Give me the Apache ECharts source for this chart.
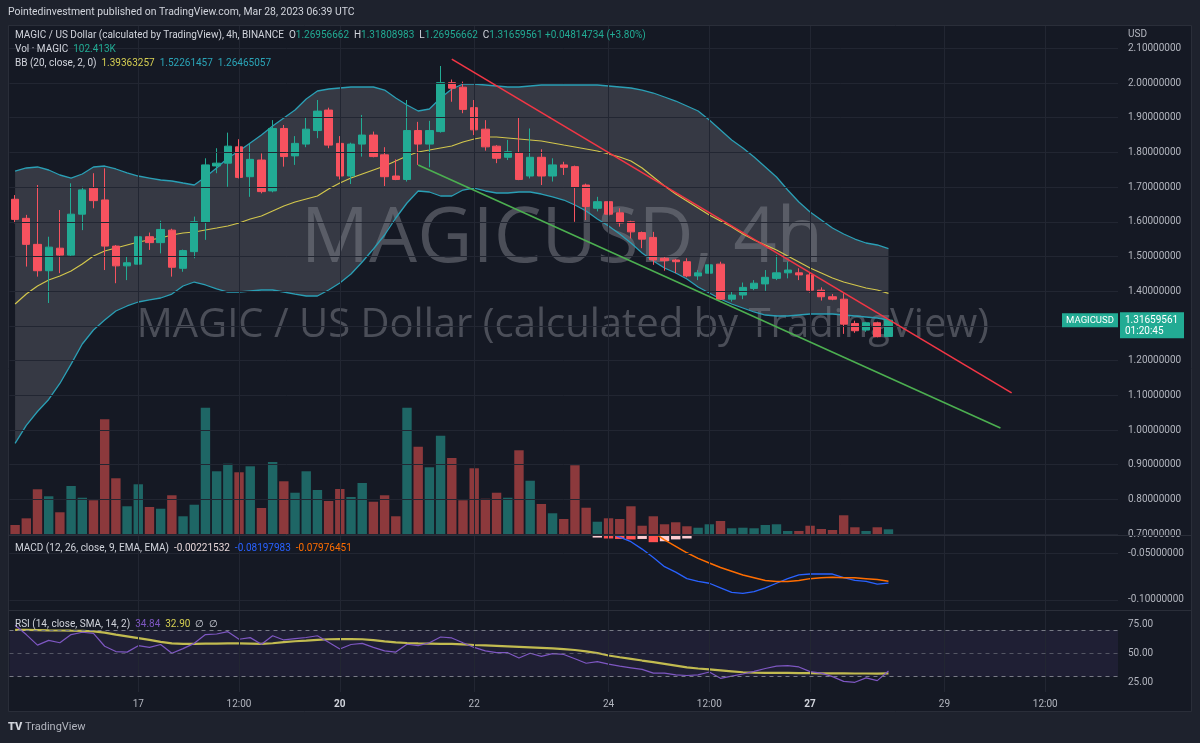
<!DOCTYPE html>
<html>
<head>
<meta charset="utf-8">
<title>MAGICUSD 4h</title>
<script src="https://cdn.jsdelivr.net/npm/echarts@6/dist/echarts.min.js"></script>
<style>
html, body { margin: 0; padding: 0; background: #1e222d; }
#container { width: 1200px; height: 743px; }
</style>
</head>
<body>
<div id="container"></div>
<script>
// MAGIC / USD, 4h candles from Mar 15 04:00 to Mar 28 04:00 (UTC)
var openP = [1.665,1.610,1.535,1.459,1.524,1.504,1.622,1.697,1.663,1.530,
  1.473,1.478,1.557,1.540,1.576,1.466,1.514,1.599,1.761,1.769,
  1.816,1.730,1.778,1.689,1.869,1.790,1.824,1.863,1.922,1.826,
  1.732,1.824,1.850,1.793,1.732,1.722,1.863,1.824,1.860,2.001,
  1.988,1.929,1.867,1.818,1.786,1.799,1.732,1.786,1.732,1.764,
  1.759,1.706,1.639,1.658,1.626,1.600,1.569,1.555,1.495,1.490,
  1.485,1.444,1.452,1.478,1.377,1.389,1.408,1.421,1.437,1.453,
  1.453,1.447,1.403,1.384,1.377,1.307,1.288,1.309,1.26956662];
var highP = [1.677,1.620,1.706,1.557,1.634,1.711,1.701,1.740,1.754,1.533,
  1.499,1.596,1.569,1.603,1.580,1.520,1.615,1.783,1.812,1.857,
  1.838,1.826,1.797,1.893,1.879,1.847,1.901,1.951,1.929,1.847,
  1.828,1.908,1.860,1.815,1.780,1.951,1.888,1.891,2.049,2.010,
  2.004,1.951,1.893,1.821,1.836,1.901,1.869,1.809,1.783,1.773,
  1.762,1.710,1.672,1.668,1.639,1.603,1.572,1.571,1.499,1.493,
  1.495,1.461,1.485,1.485,1.399,1.425,1.432,1.461,1.504,1.485,
  1.466,1.453,1.411,1.392,1.394,1.315,1.312,1.312,1.31808983];
var lowP = [1.596,1.471,1.442,1.366,1.452,1.500,1.576,1.639,1.461,1.423,
  1.432,1.452,1.519,1.509,1.442,1.456,1.495,1.548,1.740,1.701,
  1.725,1.672,1.682,1.685,1.759,1.764,1.815,1.841,1.812,1.722,
  1.709,1.788,1.786,1.703,1.720,1.716,1.764,1.757,1.857,1.946,
  1.913,1.850,1.805,1.769,1.778,1.720,1.725,1.706,1.716,1.735,
  1.600,1.605,1.630,1.600,1.586,1.552,1.524,1.476,1.459,1.452,
  1.440,1.432,1.432,1.375,1.370,1.377,1.403,1.401,1.432,1.437,
  1.432,1.396,1.373,1.374,1.277,1.280,1.283,1.267,1.26956662];
var closeP = [1.607,1.535,1.459,1.527,1.504,1.622,1.692,1.661,1.530,1.473,
  1.482,1.557,1.540,1.578,1.469,1.517,1.600,1.764,1.769,1.818,
  1.728,1.780,1.687,1.869,1.788,1.826,1.867,1.919,1.821,1.732,
  1.824,1.850,1.788,1.730,1.722,1.863,1.824,1.863,2.001,1.985,
  1.924,1.865,1.816,1.783,1.802,1.722,1.786,1.732,1.764,1.757,
  1.699,1.644,1.658,1.622,1.597,1.571,1.550,1.490,1.488,1.485,
  1.444,1.453,1.476,1.377,1.389,1.411,1.423,1.440,1.453,1.461,
  1.447,1.403,1.384,1.377,1.305,1.286,1.309,1.269,1.31659561];
// volume in thousands of MAGIC
var volumeK = [180,300,823,697,409,882,671,625,2083,1021,
  517,913,504,473,715,337,545,2291,1147,1283,
  1129,1237,486,1314,967,761,1147,810,612,828,
  684,936,599,715,337,2291,1589,1219,1787,1386,
  625,1201,653,761,671,1525,977,558,391,288,
  1255,491,239,301,288,517,167,337,193,229,
  157,131,193,252,121,131,121,180,193,72,
  72,167,108,90,355,139,72,139,102.413];
// Bollinger bands (20, close, 2)
var bbUpper = [1.7464,1.7551,1.7580,1.7493,1.7349,1.7262,1.7378,1.7580,1.7608,1.7522,
  1.7407,1.7320,1.7262,1.7205,1.7176,1.7118,1.7061,1.7291,1.7551,1.7839,
  1.8040,1.8271,1.8501,1.8761,1.8991,1.9222,1.9539,1.9770,1.9827,1.9856,
  1.9885,1.9885,1.9885,1.9798,1.9568,1.9366,1.9193,1.9251,1.9568,1.9827,
  1.9971,1.9971,1.9943,1.9914,1.9885,1.9885,1.9914,1.9943,1.9943,1.9943,
  1.9943,1.9943,1.9943,1.9914,1.9885,1.9856,1.9798,1.9712,1.9597,1.9481,
  1.9337,1.9193,1.8934,1.8645,1.8357,1.8127,1.7868,1.7580,1.7291,1.6916,
  1.6571,1.6283,1.6052,1.5821,1.5648,1.5504,1.5389,1.5332,1.52261457];
var bbBasis = [1.3631,1.3919,1.4150,1.4323,1.4438,1.4583,1.4784,1.5015,1.5159,1.5245,
  1.5332,1.5418,1.5476,1.5533,1.5620,1.5677,1.5706,1.5764,1.5821,1.5879,
  1.5966,1.6081,1.6167,1.6312,1.6456,1.6571,1.6657,1.6744,1.6945,1.7118,
  1.7262,1.7378,1.7493,1.7608,1.7752,1.7896,1.8012,1.8069,1.8127,1.8184,
  1.8300,1.8386,1.8444,1.8444,1.8415,1.8386,1.8357,1.8329,1.8271,1.8213,
  1.8156,1.8098,1.8040,1.7954,1.7868,1.7752,1.7551,1.7291,1.7032,1.6801,
  1.6600,1.6398,1.6196,1.6023,1.5850,1.5648,1.5476,1.5332,1.5187,1.5015,
  1.4842,1.4669,1.4525,1.4381,1.4265,1.4179,1.4093,1.4035,1.39363257];
var bbLower = [0.9612,1.0131,1.0534,1.0880,1.1341,1.1898,1.2479,1.2882,1.3170,1.3430,
  1.3574,1.3689,1.3747,1.3804,1.3919,1.4150,1.4265,1.4179,1.4064,1.3977,
  1.3977,1.4006,1.4035,1.4035,1.3977,1.3919,1.3862,1.3862,1.4035,1.4236,
  1.4496,1.4842,1.5216,1.5620,1.6110,1.6542,1.6888,1.6859,1.6744,1.6744,
  1.6916,1.6974,1.6888,1.6830,1.6830,1.6859,1.6859,1.6801,1.6715,1.6628,
  1.6485,1.6312,1.6081,1.5879,1.5648,1.5389,1.5101,1.4871,1.4669,1.4525,
  1.4352,1.4121,1.3948,1.3775,1.3631,1.3516,1.3401,1.3314,1.3286,1.3286,
  1.3314,1.3343,1.3343,1.3343,1.3314,1.3286,1.3257,1.3228,1.3170];
// MACD (12, 26, 9): only the part inside the pane
var macdStart = 53;
var macdVals = [-0.027,-0.032,-0.037,-0.045,-0.054,-0.064,-0.070,-0.077,-0.080,-0.082,
  -0.087,-0.092,-0.093,-0.091,-0.087,-0.082,-0.077,-0.073,-0.072,-0.072,
  -0.072,-0.076,-0.079,-0.080,-0.083,-0.08197983];
var signalStart = 57;
var signalVals = [-0.027,-0.035,-0.042,-0.049,-0.055,-0.060,-0.065,-0.069,-0.073,-0.076,
  -0.079,-0.080,-0.080,-0.079,-0.077,-0.076,-0.0755,-0.076,-0.076,-0.077,
  -0.078,-0.07976451];
var histStart = 52;
var histVals = [-0.0325,-0.0335,-0.034,-0.0345,-0.034,-0.0375,-0.0365,-0.0345,-0.0335];
// RSI (14) and its SMA (14)
var rsiVals = [74,66,57,61,59,66,68,67,56,51.5,
  51,56.5,55,57.5,50,54,58.5,66,66.5,68.5,
  62,63.4,57.7,65,61.4,62.5,63.5,65,59.4,53.7,
  57.5,58.5,55,52,51,57.7,56.5,59,63.9,63.1,
  59,55,52,50.5,50.5,46,50,47.3,49.7,49,
  45.3,41.5,42.8,40.7,39,37.6,36.2,33,33,31.5,
  31,31.5,34,28.6,30.5,32.3,34.5,37,39,39.4,
  38.3,34.3,33,30,26,25.2,29,26.6,34.84];
var rsiSma = [70,70,69.8,69.6,69.5,69.3,69.2,68.8,67.6,66,
  64.5,63,61.5,59.8,58.5,58,58,58.2,58.3,58.5,
  58.4,58.2,58,58.6,59.5,60.3,60.8,61.4,62,62.2,
  62.1,62,61.2,60.2,59.3,58.8,58.5,58.3,58.1,58,
  57.6,57.1,56.7,56.3,55.9,55.5,55.1,54.7,54.2,53.5,
  52.8,51.6,50.2,48.1,46.6,45.2,43.8,42.5,41,39.5,
  38,37,36.2,35.4,34.6,33.8,33.4,33.3,33.2,33.2,
  33.1,33,32.9,32.9,32.8,32.7,32.7,32.6,32.9];
// drawn trend lines: [candle index, price]
var redTrend = [[39, 2.069], [89, 1.107]];
var greenTrend = [[36, 1.764], [88, 1.006]];
// axis ticks
var priceTicks = [0.7,0.8,0.9,1.0,1.1,1.2,1.3,1.4,1.5,1.6,1.7,1.8,1.9,2.0,2.1];
var macdTicks = [-0.05, -0.1];
var rsiTicks = [25, 50, 75];
var tickIdx = [11, 20, 29, 41, 53, 62, 71, 83, 92];
var tickText = ['17', '12:00', '20', '22', '24', '12:00', '27', '29', '12:00'];
var boldTicks = ['20', '27'];

var slots = 99; // 79 candles + empty space on the right
var categories = [];
var t0 = Date.UTC(2023, 2, 15, 4);
for (var i = 0; i < slots; i++) {
    var d = new Date(t0 + i * 4 * 3600 * 1000);
    categories.push((d.getUTCMonth() + 1) + '-' + d.getUTCDate() + ' ' + d.getUTCHours() + ':00');
}

var UP = '#22ab94', DOWN = '#f7525f';
var GRID = '#222632', TEXT = '#b2b5be';
var FONT = 'Roboto';

function pad(start, vals) {
    var out = [];
    for (var k = 0; k < start; k++) out.push(null);
    return out.concat(vals);
}

var candleData = openP.map(function (o, k) { return [o, closeP[k], lowP[k], highP[k]]; });
var volData = volumeK.map(function (v, k) {
    return { value: v, itemStyle: { color: closeP[k] >= openP[k] ? 'rgba(38,166,154,0.55)' : 'rgba(239,83,80,0.55)' } };
});
var bbFill = bbUpper.map(function (u, k) { return u - bbLower[k]; });
var histData = pad(histStart, histVals).map(function (v, k, arr) {
    if (v === null) return null;
    var prev = arr[k - 1];
    var falling = prev !== null && prev !== undefined && v < prev;
    return { value: v, itemStyle: { color: falling ? '#ff5252' : '#ffcdd2' } };
});
var vLines = tickIdx.map(function (k) { return { xAxis: k }; });

var dom = document.getElementById('container');
var myChart = echarts.init(dom);

function xAxisFor(g, showLabels) {
    return {
        type: 'category', gridIndex: g, data: categories, boundaryGap: true,
        axisLine: { show: false }, axisTick: { show: false }, splitLine: { show: false },
        axisLabel: showLabels ? {
            interval: function (index) { return tickIdx.indexOf(index) >= 0; },
            formatter: function (value, index) {
                var t = tickText[tickIdx.indexOf(index)];
                return boldTicks.indexOf(t) >= 0 ? '{b|' + t + '}' : t;
            },
            color: TEXT, fontSize: 10, fontFamily: FONT, margin: 7,
            rich: { b: { fontWeight: 'bold', color: '#d1d4dc', fontSize: 10, fontFamily: FONT } }
        } : { show: false }
    };
}

function rightAxis(g, min, max, ticks, digits) {
    return {
        type: 'value', gridIndex: g, position: 'right', min: min, max: max, scale: true,
        axisLine: { show: false }, axisTick: { show: false }, splitLine: { show: false },
        axisLabel: {
            customValues: ticks, color: TEXT, fontSize: 10, fontFamily: FONT, margin: 10,
            formatter: function (v) { return v.toFixed(digits); }
        }
    };
}

function legend(id, y, text, rich) {
    var r = { t: { fill: '#d1d4dc', fontSize: 10, fontFamily: FONT } };
    for (var key in rich) r[key] = { fill: rich[key], fontSize: 10, fontFamily: FONT };
    return {
        id: id, type: 'text', x: 15, y: y, z: 30,
        style: { text: text, rich: r, fill: '#d1d4dc', fontSize: 10, fontFamily: FONT, verticalAlign: 'middle' }
    };
}

var graphics = [
    { id: 'area', type: 'rect', z: -10, shape: { x: 8.5, y: 25.5, width: 1183, height: 686 },
      style: { fill: '#151924', stroke: '#2a2e39', lineWidth: 1 } },
    { id: 'sep1', type: 'line', z: 20, shape: { x1: 8, y1: 535.5, x2: 1192, y2: 535.5 }, style: { stroke: '#2a2e39', lineWidth: 1 } },
    { id: 'sep2', type: 'line', z: 20, shape: { x1: 8, y1: 610.5, x2: 1192, y2: 610.5 }, style: { stroke: '#2a2e39', lineWidth: 1 } },
    { id: 'wm1', type: 'text', z: -5, x: 562, y: 240,
      style: { text: 'MAGICUSD, 4h', fill: 'rgba(150,153,162,0.42)', fontSize: 76, fontFamily: 'Open Sans', align: 'center', verticalAlign: 'middle' } },
    { id: 'wm2', type: 'text', z: -5, x: 563, y: 326,
      style: { text: 'MAGIC / US Dollar (calculated by TradingView)', fill: 'rgba(150,153,162,0.42)', fontSize: 40, fontFamily: 'Open Sans', align: 'center', verticalAlign: 'middle' } },
    { id: 'pub', type: 'text', z: 30, x: 8, y: 12,
      style: { text: 'Pointedinvestment published on TradingView.com, Mar 28, 2023 06:39 UTC', fill: '#d1d4dc', fontSize: 10.4, fontFamily: FONT, verticalAlign: 'middle' } },
    legend('lg1', 35, '{t|MAGIC / US Dollar (calculated by TradingView), 4h, BINANCE}  {t|O}{g|1.26956662}  {t|H}{g|1.31808983}  {t|L}{g|1.26956662}  {t|C}{g|1.31659561} {g|+0.04814734 (+3.80%)}', { g: '#22ab94' }),
    legend('lg2', 49, '{t|Vol · MAGIC}  {g|102.413K}', { g: '#22ab94' }),
    legend('lg3', 63, '{t|BB (20, close, 2, 0)}  {y|1.39363257}  {c|1.52261457}  {c|1.26465057}', { y: '#d6cf52', c: '#2aa5b8' }),
    legend('lg4', 548, '{t|MACD (12, 26, close, 9, EMA, EMA)}  {w|-0.00221532}  {b|-0.08197983}  {o|-0.07976451}', { w: '#e6d6d8', b: '#2962ff', o: '#ff6d00' }),
    legend('lg5', 624, '{t|RSI (14, close, SMA, 14, 2)}  {p|34.84}  {y|32.90}  {t|∅}  {t|∅}', { p: '#7e57c2', y: '#d6cf52' }),
    { id: 'usd', type: 'text', z: 30, x: 1128, y: 34,
      style: { text: 'USD', fill: TEXT, fontSize: 10, fontFamily: FONT, verticalAlign: 'middle' } },
    { id: 'logo', type: 'text', z: 30, x: 8, y: 727,
      style: { text: '{l|TV} TradingView', fill: TEXT, fontSize: 11, fontFamily: FONT, verticalAlign: 'middle',
               rich: { l: { fill: '#d1d4dc', fontSize: 11, fontWeight: 900, fontFamily: FONT } } } }
];

option = {
    backgroundColor: '#1e222d',
    animation: false,
    textStyle: { fontFamily: FONT },
    grid: [
        { left: 9.5, right: 82, top: 26, height: 509 },
        { left: 9.5, right: 82, top: 536, height: 74 },
        { left: 9.5, right: 82, top: 611, height: 81 }
    ],
    xAxis: [xAxisFor(0, false), xAxisFor(1, false), xAxisFor(2, true)],
    yAxis: [
        rightAxis(0, 0.6974, 2.1643, priceTicks, 8),
        { type: 'value', gridIndex: 0, min: 0, max: 9162, show: false, splitLine: { show: false } },
        rightAxis(1, -0.111, -0.0308, macdTicks, 8),
        rightAxis(2, 16.9, 86.15, rsiTicks, 2)
    ],
    graphic: graphics,
    series: [
        {
            name: 'bbLow', type: 'line', xAxisIndex: 0, yAxisIndex: 0, data: bbLower, stack: 'bb',
            symbol: 'none', lineStyle: { opacity: 0 }, silent: true, z: 1,
            markLine: {
                silent: true, symbol: 'none', label: { show: false },
                lineStyle: { color: GRID, width: 1, type: 'solid' },
                data: priceTicks.map(function (v) { return { yAxis: v }; }).concat(vLines)
            }
        },
        {
            name: 'bbFill', type: 'line', xAxisIndex: 0, yAxisIndex: 0, data: bbFill, stack: 'bb',
            symbol: 'none', lineStyle: { opacity: 0 }, silent: true, z: 1,
            areaStyle: { color: 'rgba(120,123,134,0.33)', opacity: 1 }
        },
        {
            name: 'Volume', type: 'bar', xAxisIndex: 0, yAxisIndex: 1, data: volData,
            barWidth: '84%', silent: true, z: 2
        },
        {
            name: 'Upper', type: 'line', xAxisIndex: 0, yAxisIndex: 0, data: bbUpper, symbol: 'none',
            lineStyle: { color: '#2a9fb5', width: 1.3 }, z: 3
        },
        {
            name: 'Lower', type: 'line', xAxisIndex: 0, yAxisIndex: 0, data: bbLower, symbol: 'none',
            lineStyle: { color: '#2a9fb5', width: 1.3 }, z: 3
        },
        {
            name: 'Basis', type: 'line', xAxisIndex: 0, yAxisIndex: 0, data: bbBasis, symbol: 'none',
            lineStyle: { color: '#d2c64c', width: 1.2 }, z: 3
        },
        {
            name: 'MAGICUSD', type: 'candlestick', xAxisIndex: 0, yAxisIndex: 0, data: candleData,
            barWidth: '70%', z: 4,
            itemStyle: { color: UP, color0: DOWN, borderColor: UP, borderColor0: DOWN, borderWidth: 1 }
        },
        {
            name: 'Resistance', type: 'line', xAxisIndex: 0, yAxisIndex: 0, data: redTrend, symbol: 'none',
            lineStyle: { color: '#f23645', width: 1.6 }, z: 5
        },
        {
            name: 'Support', type: 'line', xAxisIndex: 0, yAxisIndex: 0, data: greenTrend, symbol: 'none',
            lineStyle: { color: '#4caf50', width: 1.6 }, z: 5
        },
        {
            name: 'Histogram', type: 'bar', xAxisIndex: 1, yAxisIndex: 2, data: histData,
            barWidth: '84%', clip: true, z: 2,
            markLine: {
                silent: true, symbol: 'none', label: { show: false },
                lineStyle: { color: GRID, width: 1, type: 'solid' },
                data: macdTicks.map(function (v) { return { yAxis: v }; }).concat(vLines)
            }
        },
        {
            name: 'MACD', type: 'line', xAxisIndex: 1, yAxisIndex: 2, data: pad(macdStart, macdVals),
            symbol: 'none', lineStyle: { color: '#2962ff', width: 1.3 }, z: 3
        },
        {
            name: 'Signal', type: 'line', xAxisIndex: 1, yAxisIndex: 2, data: pad(signalStart, signalVals),
            symbol: 'none', lineStyle: { color: '#ff6d00', width: 1.5 }, z: 3
        },
        {
            name: 'RSI', type: 'line', xAxisIndex: 2, yAxisIndex: 3, data: rsiVals, symbol: 'none',
            lineStyle: { color: '#7e57c2', width: 1.2 }, z: 3,
            markArea: {
                silent: true, itemStyle: { color: 'rgba(126,87,194,0.1)' },
                data: [[{ yAxis: 30 }, { yAxis: 70 }]]
            },
            markLine: {
                silent: true, symbol: 'none', label: { show: false },
                lineStyle: { color: GRID, width: 1, type: 'solid' },
                data: vLines.concat([
                    { yAxis: 70, lineStyle: { color: '#787b86', type: [4, 4], width: 1 } },
                    { yAxis: 50, lineStyle: { color: 'rgba(120,123,134,0.6)', type: [4, 4], width: 1 } },
                    { yAxis: 30, lineStyle: { color: '#787b86', type: [4, 4], width: 1 } }
                ])
            }
        },
        {
            name: 'RSI MA', type: 'line', xAxisIndex: 2, yAxisIndex: 3, data: rsiSma, symbol: 'none',
            lineStyle: { color: '#c2bb50', width: 2.2 }, z: 2
        }
    ]
};
myChart.setOption(option, true);

// last price tags on the price scale
var lastClose = closeP[closeP.length - 1];
var py = myChart.convertToPixel({ yAxisIndex: 0 }, lastClose);
if (Array.isArray(py)) py = py[1];
myChart.setOption({
    graphic: graphics.concat([
        { id: 'symBox', type: 'rect', z: 40, shape: { x: 1062, y: py - 7, width: 56, height: 14 }, style: { fill: UP } },
        { id: 'symTxt', type: 'text', z: 41, x: 1090, y: py,
          style: { text: 'MAGICUSD', fill: '#ffffff', fontSize: 9.5, fontFamily: FONT, align: 'center', verticalAlign: 'middle' } },
        { id: 'valBox', type: 'rect', z: 40, shape: { x: 1120, y: py - 8, width: 64, height: 26 }, style: { fill: UP } },
        { id: 'valTxt', type: 'text', z: 41, x: 1125, y: py,
          style: { text: '1.31659561', fill: '#ffffff', fontSize: 10, fontFamily: FONT, verticalAlign: 'middle' } },
        { id: 'cdTxt', type: 'text', z: 41, x: 1125, y: py + 11,
          style: { text: '01:20:45', fill: '#ffffff', fontSize: 10, fontFamily: FONT, verticalAlign: 'middle' } }
    ])
});

window.onresize = function () {
    myChart.resize();
};
</script>
</body>
</html>
